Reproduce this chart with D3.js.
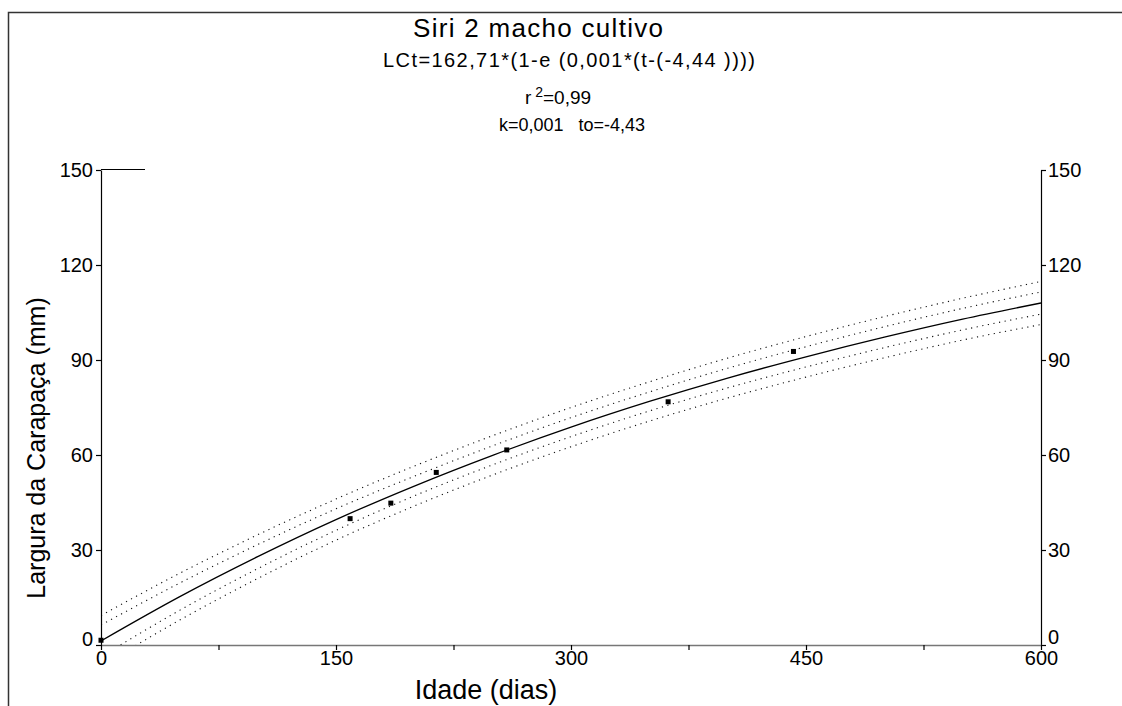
<!DOCTYPE html>
<html>
<head>
<meta charset="utf-8">
<script src="https://cdn.jsdelivr.net/npm/d3@7"></script>
<style>
  body { margin: 0; background: #fff; }
  svg text { font-family: "Liberation Sans", Arial, sans-serif; fill: #000; }
</style>
</head>
<body>
<svg id="chart" width="1122" height="706"></svg>
<script>
// observed points (idade em dias, largura mm)
const ages = [0, 159, 185, 214, 259, 362, 442]
const widths = [1.5, 39.9, 44.8, 54.5, 61.6, 76.8, 92.7]

// fitted curve and bands, every 50 days
const curveT = [0, 50, 100, 150, 200, 250, 300, 350, 400, 450, 500, 550, 600]
const fitLine = [1.3, 15.2, 27.9, 39.6, 50.2, 59.9, 68.8, 76.9, 84.3, 91.0, 97.2, 102.9, 108.0]
const upperOuter = [9.3, 22.6, 34.8, 46.1, 56.5, 66.1, 75.0, 83.1, 90.6, 97.4, 103.7, 109.5, 114.8]
const upperInner = [6.3, 19.5, 31.7, 43.0, 53.3, 62.9, 71.8, 79.9, 87.4, 94.2, 100.5, 106.3, 111.5]
const lowerInner = [-3.7, 10.9, 24.1, 36.2, 47.1, 56.9, 65.8, 73.9, 81.2, 87.8, 93.9, 99.5, 104.5]
const lowerOuter = [-6.7, 7.8, 21.0, 33.1, 43.9, 53.7, 62.6, 70.7, 78.0, 84.6, 90.7, 96.3, 101.2]

const xTicks = [0, 75, 150, 225, 300, 375, 450, 525, 600]
const xLabels = [0, 150, 300, 450, 600]
const yTicks = [0, 30, 60, 90, 120, 150]

const svg = d3.select("#chart")
const x = d3.scaleLinear().domain([0, 600]).range([101, 1041])
const y = d3.scaleLinear().domain([0, 150]).range([645, 170])

// outer frame
svg.append("path")
  .attr("d", "M8.5,706 V12.5 H1122")
  .attr("fill", "none").attr("stroke", "#333").attr("stroke-width", 1.5)

svg.append("clipPath").attr("id", "plot")
  .append("rect").attr("x", 101).attr("y", 170).attr("width", 940).attr("height", 475)

const g = svg.append("g").attr("clip-path", "url(#plot)")

function series(vals) {
  return curveT.map((t, i) => [t, vals[i]])
}
const line = d3.line().x(d => x(d[0])).y(d => y(d[1])).curve(d3.curveMonotoneX)

;[upperOuter, upperInner, lowerInner, lowerOuter].forEach(v => {
  g.append("path").attr("d", line(series(v)))
    .attr("fill", "none").attr("stroke", "#111").attr("stroke-width", 1.1)
    .attr("stroke-dasharray", "1.2 4.5")
})
g.append("path").attr("d", line(series(fitLine)))
  .attr("fill", "none").attr("stroke", "#000").attr("stroke-width", 1.3)

svg.append("g").selectAll("rect")
  .data(ages.map((a, i) => [a, widths[i]]))
  .enter().append("rect")
  .attr("x", d => x(d[0]) - 2.5).attr("y", d => y(d[1]) - 2.5)
  .attr("width", 5).attr("height", 5).attr("fill", "#000")

// axes
const leftAxis = svg.append("g").attr("transform", "translate(101,0)")
  .call(d3.axisLeft(y).tickValues(yTicks).tickSize(5).tickSizeOuter(0))
const rightAxis = svg.append("g").attr("transform", "translate(1041,0)")
  .call(d3.axisRight(y).tickValues(yTicks).tickSize(5).tickSizeOuter(0))
const bottomAxis = svg.append("g").attr("transform", "translate(0,645)")
  .call(d3.axisBottom(x).tickValues(xTicks).tickSize(5).tickSizeOuter(0)
    .tickFormat(d => xLabels.includes(d) ? d : ""))

;[leftAxis, rightAxis, bottomAxis].forEach(a => {
  a.selectAll("text").style("font-size", "20px").style("font-family", "Liberation Sans, Arial")
  a.selectAll("line,path").attr("stroke", "#000").attr("stroke-width", 1.2)
})
bottomAxis.select(".domain").attr("stroke", "#777").attr("stroke-width", 1.6)
bottomAxis.selectAll("text").attr("y", 6)
leftAxis.selectAll("text").attr("x", -8)
rightAxis.selectAll("text").attr("x", 7)
// the zero labels sit a little above the baseline, clear of the x labels
leftAxis.selectAll(".tick").filter(d => d === 0).select("text").attr("y", -6)
rightAxis.selectAll(".tick").filter(d => d === 0).select("text").attr("y", -8)

// short top segment at 150
svg.append("line").attr("x1", 101).attr("x2", 145).attr("y1", 169.5).attr("y2", 169.5)
  .attr("stroke", "#000").attr("stroke-width", 1.2)

// titles
svg.append("text").attr("x", 538).attr("y", 37).attr("text-anchor", "middle")
  .style("font-size", "26px").attr("textLength", 250).attr("lengthAdjust", "spacing")
  .text("Siri 2 macho cultivo")
svg.append("text").attr("x", 569).attr("y", 67).attr("text-anchor", "middle")
  .style("font-size", "20px").attr("textLength", 372).attr("lengthAdjust", "spacing")
  .text("LCt=162,71*(1-e (0,001*(t-(-4,44 ))))")
const r2 = svg.append("text").attr("x", 558).attr("y", 104).attr("text-anchor", "middle")
  .style("font-size", "19px")
r2.append("tspan").text("r")
r2.append("tspan").attr("dx", 4).attr("dy", -7).style("font-size", "14px").text("2")
r2.append("tspan").attr("dy", 7).text("=0,99")
svg.append("text").attr("x", 572).attr("y", 131).attr("text-anchor", "middle")
  .style("font-size", "18px").attr("xml:space", "preserve")
  .text("k=0,001   to=-4,43")

svg.append("text").attr("x", 486).attr("y", 699).attr("text-anchor", "middle")
  .style("font-size", "27px").text("Idade (dias)")
svg.append("text").attr("transform", "translate(45,448) rotate(-90)")
  .attr("text-anchor", "middle").style("font-size", "25px")
  .text("Largura da Carapaça (mm)")
</script>
</body>
</html>
